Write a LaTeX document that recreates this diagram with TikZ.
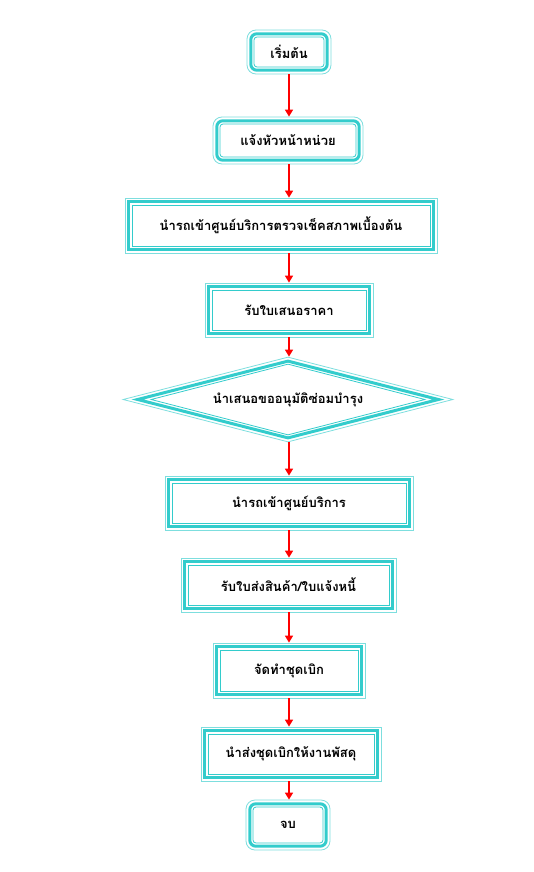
\documentclass[tikz,border=0pt]{standalone}
\usepackage{fontspec}
\newfontfamily\thaifont[Script=Thai]{Loma}
\usetikzlibrary{shapes.geometric,fit,arrows.meta}
\definecolor{boxline}{RGB}{51,204,204}
\definecolor{boxhalo}{RGB}{125,222,222}
\begin{document}
\begin{tikzpicture}[x=1pt,y=-1pt,
    inner/.style={draw=boxline,line width=0.8pt,inner sep=0pt,font=\thaifont\bfseries\fontsize{13}{15}\selectfont},
    mid/.style={draw=boxline,line width=3pt,inner sep=2.8pt},
    outer/.style={draw=boxhalo,line width=0.8pt,inner sep=6.6pt},
    flow/.style={draw=red,line width=1.6pt,-{Triangle[width=8pt,length=7pt]}}]
    \useasboundingbox (0,0) rectangle (533,872);
    \coordinate (ax) at (289,0);
    % start / end
    \node[rectangle,rounded corners=3pt,inner,minimum width=70pt,minimum height=30pt] (st) at (289,52) {เริ่มต้น};
    \node[rectangle,rounded corners=6pt,mid,fit=(st)] (stm) {};
    \node[rectangle,rounded corners=9pt,outer,fit=(st)] (sto) {};
    \node[rectangle,rounded corners=3pt,inner,minimum width=136pt,minimum height=33pt] (hd) at (288,140.5) {แจ้งหัวหน้าหน่วย};
    \node[rectangle,rounded corners=6pt,mid,fit=(hd)] (hdm) {};
    \node[rectangle,rounded corners=9pt,outer,fit=(hd)] (hdo) {};
    % steps
    \node[rectangle,inner,minimum width=298pt,minimum height=41pt] (ck) at (281,225.5) {นำรถเข้าศูนย์บริการตรวจเช็คสภาพเบื้องต้น};
    \node[rectangle,mid,fit=(ck)] (ckm) {};
    \node[rectangle,outer,fit=(ck)] (cko) {};
    \node[rectangle,inner,minimum width=154pt,minimum height=40pt] (qt) at (289,310) {รับใบเสนอราคา};
    \node[rectangle,mid,fit=(qt)] (qtm) {};
    \node[rectangle,outer,fit=(qt)] (qto) {};
    % decision
    \node[diamond,inner,aspect=3.9,minimum width=274pt,minimum height=71pt] (ap) at (288,399.5) {นำเสนอขออนุมัติซ่อมบำรุง};
    \node[diamond,mid,aspect=3.9,minimum width=302pt,minimum height=78pt] (apm) at (ap) {};
    \node[diamond,outer,aspect=3.9,minimum width=330pt,minimum height=85pt] (apo) at (ap) {};
    \node[rectangle,inner,minimum width=234pt,minimum height=40pt] (sv) at (289,503) {นำรถเข้าศูนย์บริการ};
    \node[rectangle,mid,fit=(sv)] (svm) {};
    \node[rectangle,outer,fit=(sv)] (svo) {};
    \node[rectangle,inner,minimum width=201pt,minimum height=40pt] (iv) at (288.5,585) {รับใบส่งสินค้า/ใบแจ้งหนี้};
    \node[rectangle,mid,fit=(iv)] (ivm) {};
    \node[rectangle,outer,fit=(iv)] (ivo) {};
    \node[rectangle,inner,minimum width=138pt,minimum height=41pt] (rq) at (289,670.5) {จัดทำชุดเบิก};
    \node[rectangle,mid,fit=(rq)] (rqm) {};
    \node[rectangle,outer,fit=(rq)] (rqo) {};
    \node[rectangle,inner,minimum width=166pt,minimum height=40pt] (sd) at (291,754) {นำส่งชุดเบิกให้งานพัสดุ};
    \node[rectangle,mid,fit=(sd)] (sdm) {};
    \node[rectangle,outer,fit=(sd)] (sdo) {};
    \node[rectangle,rounded corners=3pt,inner,minimum width=70pt,minimum height=36pt] (fn) at (288,825) {จบ};
    \node[rectangle,rounded corners=6pt,mid,fit=(fn)] (fnm) {};
    \node[rectangle,rounded corners=9pt,outer,fit=(fn)] (fno) {};
    % arrows
    \foreach \a/\b in {sto/hdo,hdo/cko,cko/qto,qto/apo,apo/svo,svo/ivo,ivo/rqo,rqo/sdo,sdo/fno}
        \draw[flow] (\a.south -| ax) -- (\b.north -| ax);
\end{tikzpicture}
\end{document}
